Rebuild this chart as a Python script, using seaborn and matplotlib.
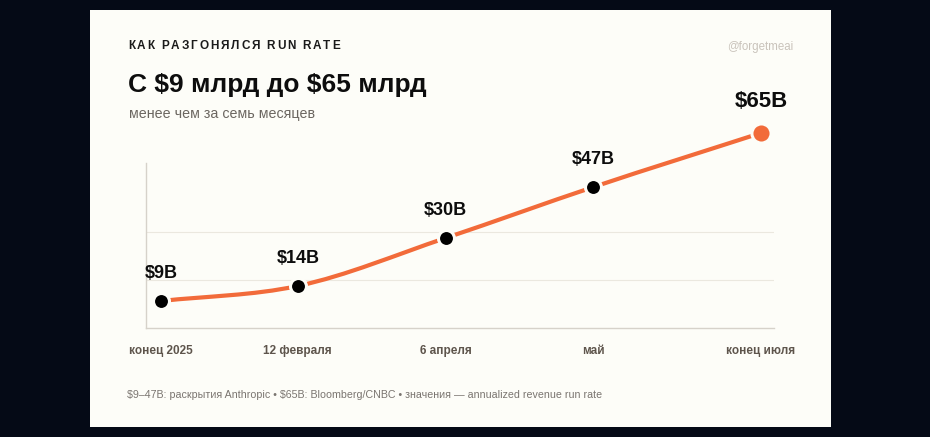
import numpy as np
import pandas as pd
import seaborn as sns
import matplotlib
matplotlib.use("Agg")
import matplotlib.pyplot as plt
from matplotlib.path import Path
from matplotlib.patches import PathPatch, Rectangle

# data
dates = ["2025-12-25", "2026-02-12", "2026-04-06", "2026-05-29", "2026-07-28"]
tick_labels = ["конец 2025", "12 февраля", "6 апреля", "май", "конец июля"]
run_rate = [9, 14, 30, 47, 65]  # $B, annualized revenue run rate

header = "КАК РАЗГОНЯЛСЯ RUN RATE"
title = "С $9 млрд до $65 млрд"
subtitle = "менее чем за семь месяцев"
handle = "@forgetmeai"
footer = "$9–47B: раскрытия Anthropic • $65B: Bloomberg/CNBC • значения — annualized revenue run rate"

W, H = 930, 437
BG = "#050a16"
CARD = "#fdfdf8"
ORANGE = "#f26b3a"


def px(x, y):
    return x / W, 1 - y / H


def monotone_path(x, y):
    # monotone cubic (like d3 curveMonotoneX), ends use the secant slope
    x = np.asarray(x, float)
    y = np.asarray(y, float)
    h = np.diff(x)
    s = np.diff(y) / h
    t = np.zeros(len(x))
    for i in range(1, len(x) - 1):
        p = (s[i - 1] * h[i] + s[i] * h[i - 1]) / (h[i - 1] + h[i])
        t[i] = (np.sign(s[i - 1]) + np.sign(s[i])) * min(abs(s[i - 1]), abs(s[i]), 0.5 * abs(p))
    t[0] = s[0]
    t[-1] = s[-1]
    verts = [(x[0], y[0])]
    codes = [Path.MOVETO]
    for i in range(len(x) - 1):
        dx = h[i] / 3
        verts += [(x[i] + dx, y[i] + dx * t[i]),
                  (x[i + 1] - dx, y[i + 1] - dx * t[i + 1]),
                  (x[i + 1], y[i + 1])]
        codes += [Path.CURVE4] * 3
    return Path(verts, codes)


def spaced_text(fig, x, y, s, tracking, **kw):
    # matplotlib has no letter-spacing, so place glyphs one by one (pixel coords)
    renderer = fig.canvas.get_renderer()
    space_w = None
    for ch in s:
        if ch == " ":
            x += space_w + tracking
            continue
        t = fig.text(*px(x, y), ch, va="center", ha="left", **kw)
        w = t.get_window_extent(renderer).width
        if space_w is None:
            space_w = w * 0.4
        x += w + tracking


df = pd.DataFrame({"date": pd.to_datetime(dates), "value": run_rate, "label": tick_labels})
df["day"] = (df["date"] - df["date"].iloc[0]).dt.days

sns.set_theme(style="white")
plt.rcParams["font.family"] = ["Liberation Sans", "DejaVu Sans"]
plt.rcParams["text.parse_math"] = False

fig = plt.figure(figsize=(W / 100, H / 100), dpi=100, facecolor=BG)
fig.patches.append(Rectangle(px(90, 427), 741 / W, 417 / H, transform=fig.transFigure,
                             facecolor=CARD, edgecolor="none", zorder=-5))

ax = fig.add_axes([146 / W, 1 - 328 / H, 628 / W, 165 / H])
ax.set_facecolor("none")

# smooth line
line = PathPatch(monotone_path(df["day"], df["value"]), facecolor="none", edgecolor=ORANGE,
                 lw=3, capstyle="round", joinstyle="round", clip_on=False, zorder=2)
ax.add_patch(line)

# points
sns.scatterplot(data=df.iloc[:-1], x="day", y="value", s=132, color="black",
                edgecolor=CARD, linewidth=2.2, ax=ax, zorder=3, clip_on=False, legend=False)
sns.scatterplot(data=df.iloc[-1:], x="day", y="value", s=190, color=ORANGE,
                edgecolor=CARD, linewidth=2.2, ax=ax, zorder=3, clip_on=False, legend=False)

for i, r in df.iterrows():
    last = i == len(df) - 1
    ax.annotate(f"${r['value']}B", (r["day"], r["value"]),
                xytext=(0, 22.5 if last else 19.5), textcoords="offset points",
                ha="center", va="center", fontsize=16 if last else 13,
                fontweight="bold", color="#0d0d0d", zorder=4, annotation_clip=False)

ax.set_xlim(-5.4, 219.7)
ax.set_ylim(0, 55)
ax.set_yticks([16, 32])
ax.set_yticklabels([])
ax.yaxis.grid(True, color="#ebe8df", lw=0.8)
ax.xaxis.grid(False)
ax.set_xticks(df["day"])
ax.set_xticklabels(df["label"], fontsize=8.5, fontweight="bold", color="#5e554c")
ax.tick_params(axis="both", length=0)
ax.tick_params(axis="x", pad=12.5)
ax.set_xlabel("")
ax.set_ylabel("")
for side in ["top", "right"]:
    ax.spines[side].set_visible(False)
for side in ["left", "bottom"]:
    ax.spines[side].set_color("#d6d2ca")
    ax.spines[side].set_linewidth(1)

# texts
spaced_text(fig, 128, 46, header, 1.9, fontsize=8.5, fontweight="bold", color="#1a1a1a")
fig.text(*px(128, 85), title, fontsize=19, fontweight="bold", color="#0d0d0d",
         va="center", ha="left")
fig.text(*px(129, 114), subtitle, fontsize=10.3, color="#6b6660", va="center", ha="left")
fig.text(*px(793, 47), handle, fontsize=8.3, color="#c9c3bb", va="center", ha="right")
fig.text(*px(127, 395), footer, fontsize=7.7, color="#7a7570", va="center", ha="left")

fig.savefig("out.png", dpi=100, facecolor=BG)
